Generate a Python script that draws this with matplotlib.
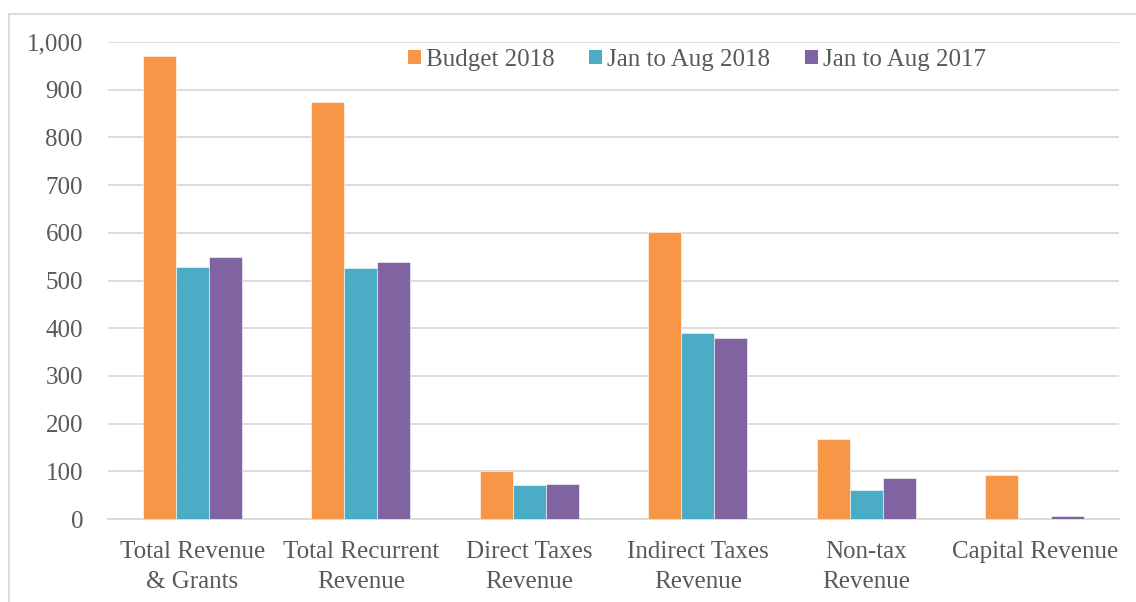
import matplotlib
matplotlib.use("Agg")
import matplotlib.pyplot as plt
from matplotlib.lines import Line2D
from matplotlib.patches import Patch
import numpy as np

categories = ["Total Revenue\n& Grants", "Total Recurrent\nRevenue", "Direct Taxes\nRevenue",
              "Indirect Taxes\nRevenue", "Non-tax\nRevenue", "Capital Revenue"]
series_names = ["Budget 2018", "Jan to Aug 2018", "Jan to Aug 2017"]
budget_2018 = [970, 875, 101, 602, 168, 92]
jan_aug_2018 = [528, 526, 71, 390, 61, 0]
jan_aug_2017 = [549, 539, 73, 379, 86, 7]
yticks = [0, 100, 200, 300, 400, 500, 600, 700, 800, 900, 1000]

colors = ["#F79646", "#4BACC6", "#8064A2"]
text_color = "#595959"
grid_color = "#D9D9D9"
font = ["Liberation Serif", "DejaVu Serif"]
plt.rcParams["font.family"] = font

W, H = 1136, 602
fig = plt.figure(figsize=(W / 100, H / 100), dpi=100)
ax = fig.add_axes([108 / W, 1 - 519 / H, (1119 - 108) / W, (519 - 42) / H])

x = np.arange(len(categories))
bw = 0.196
for i, (vals, c) in enumerate(zip([budget_2018, jan_aug_2018, jan_aug_2017], colors)):
    ax.bar(x + (i - 1) * bw, vals, width=bw, color=c, edgecolor="white", linewidth=0.4,
           label=series_names[i], zorder=3)

ax.set_xlim(-0.5, len(categories) - 0.5)
ax.set_ylim(0, 1000)
ax.set_yticks(yticks)
ax.set_yticklabels([f"{v:,}" for v in yticks])
ax.set_xticks(x)
ax.set_xticklabels(categories, linespacing=1.45)
ax.tick_params(axis="both", length=0, colors=text_color, labelsize=18)
ax.tick_params(axis="x", pad=16)
ax.tick_params(axis="y", pad=18)
ax.grid(axis="y", color=grid_color, linewidth=1.3, zorder=0)
for s in ["top", "right", "left"]:
    ax.spines[s].set_visible(False)
ax.spines["bottom"].set_color(grid_color)
ax.spines["bottom"].set_linewidth(1.3)
ax.spines["bottom"].set_zorder(2)

handles = [Patch(facecolor=c, edgecolor="none") for c in colors]
leg = ax.legend(handles, series_names, loc="center", bbox_to_anchor=(697 / W, 1 - 60 / H),
                bbox_transform=fig.transFigure, ncol=3, frameon=False, fontsize=18,
                handlelength=0.52, handleheight=0.52, handletextpad=0.2, columnspacing=1.4,
                borderaxespad=0)
for t in leg.get_texts():
    t.set_color(text_color)

# outer chart frame
fig.add_artist(Line2D([9 / W, 9 / W], [0, 1 - 14 / H], transform=fig.transFigure,
                      color=grid_color, linewidth=1.3))
fig.add_artist(Line2D([9 / W, 1], [1 - 14 / H, 1 - 14 / H], transform=fig.transFigure,
                      color=grid_color, linewidth=1.3))

fig.savefig("out.png", dpi=100)
